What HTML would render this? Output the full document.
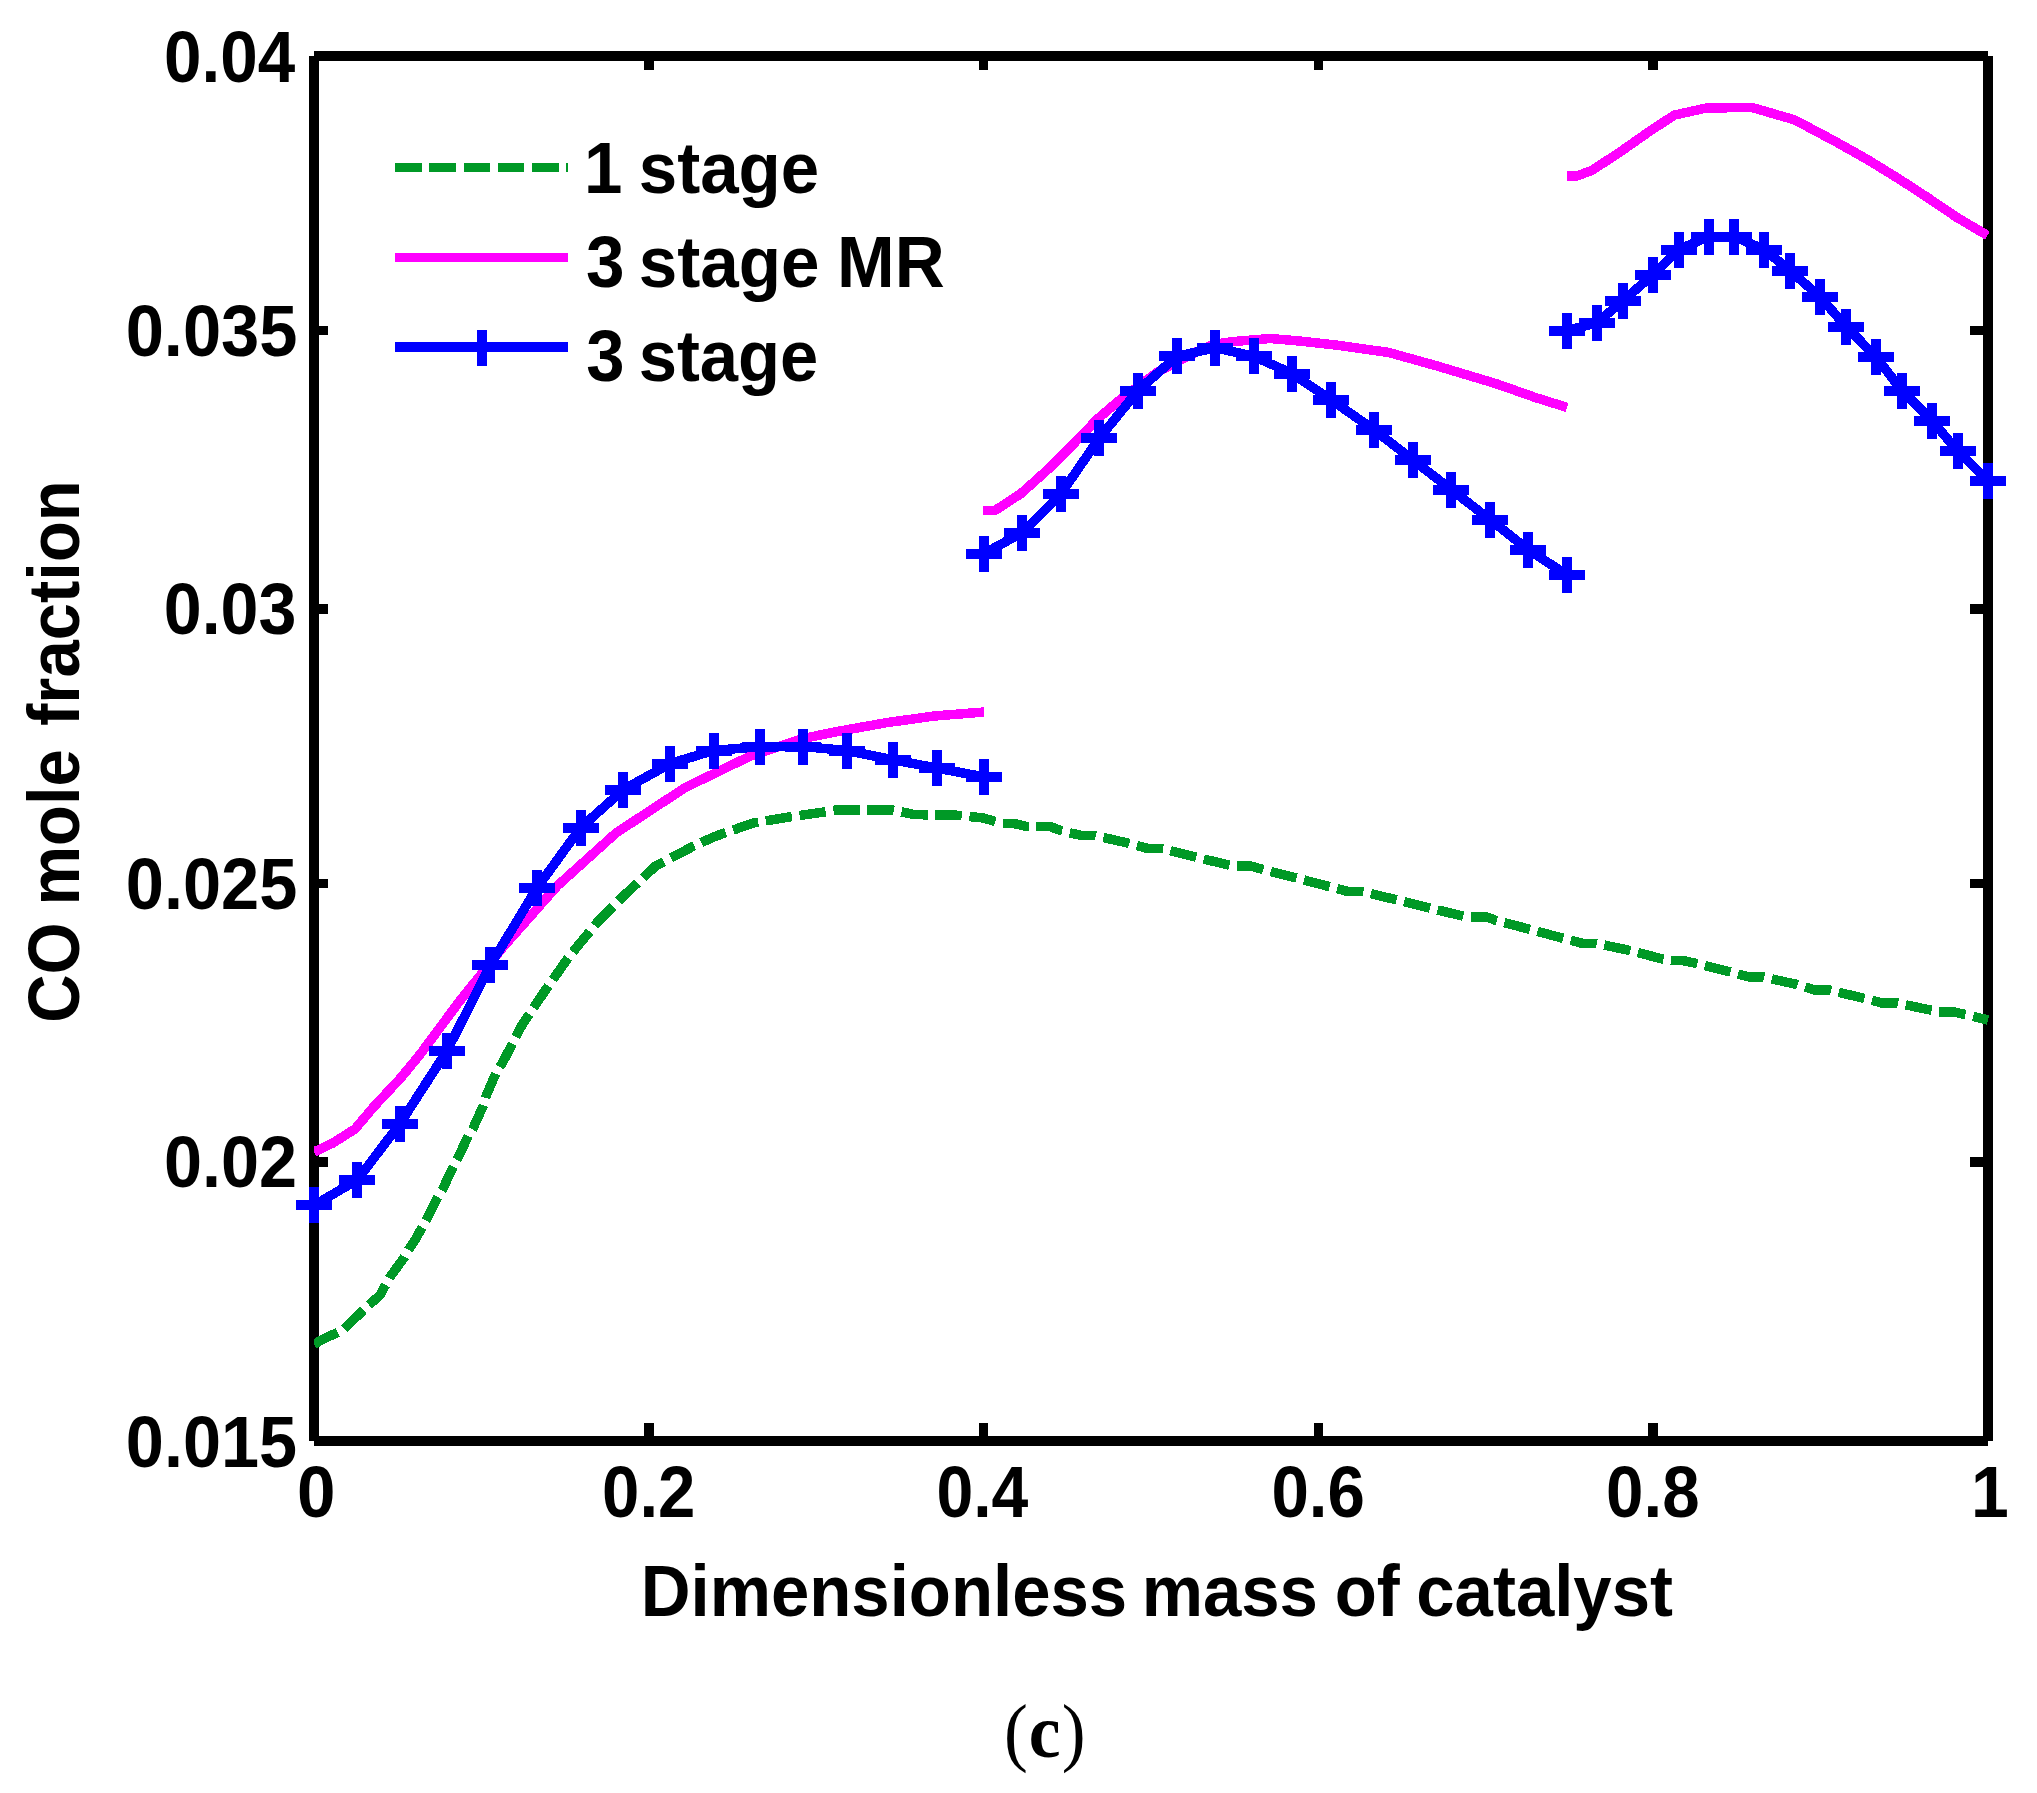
<!DOCTYPE html>
<html lang="en"><head><meta charset="utf-8"><title>CO mole fraction</title>
<style>html,body{margin:0;padding:0;background:#fff}body{width:2037px;height:1793px;overflow:hidden}svg{display:block}.t text{font-family:"Liberation Sans",sans-serif;font-weight:bold;font-size:70px;fill:#000}.c{font-family:"Liberation Serif",serif;font-size:77px;fill:#000}</style></head><body>
<svg width="2037" height="1793" viewBox="0 0 2037 1793">
<rect width="2037" height="1793" fill="#fff"/>
<g stroke="#000" stroke-width="10" fill="none" shape-rendering="crispEdges">
<path d="M314 56H1988 M314 1441H1988 M314 56V1441 M1988 56V1441"/>
<path stroke-width="9.5" d="M649 1441V1423 M649 56V70 M983.5 1441V1423 M983.5 56V70 M1318.5 1441V1423 M1318.5 56V70 M1653 1441V1423 M1653 56V70 M314 330.5H328 M1988 330.5H1970 M314 609H328 M1988 609H1970 M314 883.5H328 M1988 883.5H1970 M314 1162H328 M1988 1162H1970"/>
</g>
<clipPath id="ax"><rect x="314" y="0" width="1675" height="1793"/></clipPath>
<g fill="none" stroke-width="9.5" stroke-linejoin="round" shape-rendering="crispEdges">
<g clip-path="url(#ax)">
<polyline stroke="#009926" stroke-dasharray="26.4 7.76" points="314.0,1344.2 326.1,1337.6 336.6,1333.0 343.2,1329.5 362.7,1310.9 368.3,1305.4 380.3,1294.9 384.8,1286.3 389.4,1277.8 404.4,1257.2 408.4,1249.7 415.1,1240.0 426.0,1220.4 437.3,1198.0 442.2,1190.0 453.2,1166.9 457.2,1159.4 468.3,1135.8 472.8,1128.8 483.3,1105.7 485.8,1096.6 495.9,1073.1 502.4,1063.0 522.0,1025.0 545.7,989.7 569.2,956.4 596.7,923.0 626.2,893.5 655.6,866.0 693.0,846.4 714.5,836.6 753.8,822.8 789.2,817.0 822.6,812.2 834.4,810.2 893.3,810.2 915.0,814.7 954.2,815.0 983.6,818.0 1002.5,823.7"/>
<polyline stroke="#009926" stroke-dasharray="26.5 7.79" points="1002.5,823.7 1014.7,823.7 1027.0,826.6 1050.3,826.6 1061.4,830.8 1082.2,835.7 1095.2,835.7 1128.9,843.3 1148.5,848.7 1162.5,848.7 1196.4,857.3 1229.5,865.2 1236.9,865.9 1250.4,865.9 1263.4,869.6 1297.0,878.2 1330.1,886.8 1348.6,891.7 1362.8,891.7 1396.4,899.8 1430.0,908.1 1463.2,916.2 1470.8,917.2 1486.8,917.2 1496.4,920.5 1529.2,929.2 1562.0,938.0 1582.5,943.4 1596.2,943.4 1629.0,950.3 1661.8,958.8 1671.4,960.7 1683.7,960.7 1696.0,963.4 1728.8,971.6 1749.3,977.0 1763.0,977.0 1797.2,984.5 1815.0,990.2 1830.0,990.2 1862.8,998.1 1882.0,1003.0 1897.0,1003.0 1929.8,1009.9 1939.4,1011.8 1953.0,1011.8 1965.4,1014.5 1988.0,1020.0"/>
<polyline stroke="#ff00ff" points="314.0,1152.0 333.0,1143.0 355.0,1129.0 373.6,1107.0 401.0,1077.6 420.0,1054.5 459.3,1001.5 503.6,946.5 557.5,885.7 616.4,832.7 685.2,787.6 750.0,756.2 803.0,738.5 836.4,731.7 885.5,722.8 934.5,716.0 984.0,712.0"/>
<polyline stroke="#ff00ff" points="983.2,510.3 995.3,510.3 1020.9,493.6 1048.4,469.0 1073.9,443.5 1097.5,419.0 1117.0,402.3 1156.4,372.8 1195.6,352.2 1213.3,344.4 1235.0,341.4 1270.3,338.5 1303.6,341.4 1339.3,345.5 1388.4,352.4 1437.5,366.1 1496.4,383.8 1535.6,397.6 1567.0,407.4"/>
<polyline stroke="#ff00ff" points="1567.0,176.0 1576.7,176.0 1591.5,170.6 1618.0,153.4 1649.3,131.5 1674.3,115.1 1707.1,107.8 1752.8,107.7 1794.9,120.0 1835.7,141.7 1867.6,159.6 1899.5,179.3 1925.1,195.9 1957.0,217.5 1987.5,235.5"/>
<polyline stroke="#0000ff" points="314.2,1205.2 357.4,1179.8 400.0,1123.6 447.1,1050.6 490.3,965.2 537.2,887.6 580.6,827.7 623.2,789.8 670.4,763.5 713.6,750.5 760.4,746.6 803.4,746.6 846.6,750.5 893.3,759.8 936.5,768.0 983.6,776.8"/>
<polyline stroke="#0000ff" points="983.6,553.7 1022.4,532.6 1060.9,493.8 1099.4,438.0 1138.1,390.5 1176.6,356.4 1215.3,347.7 1254.0,356.4 1292.3,373.6 1330.9,399.7 1374.0,429.8 1412.5,459.6 1451.4,489.7 1490.1,519.6 1528.4,549.8 1567.0,574.9"/>
<polyline stroke="#0000ff" points="1567.0,330.7 1597.0,322.6 1623.1,300.7 1652.9,274.8 1678.5,249.6 1708.5,236.6 1734.4,236.6 1764.4,249.6 1790.0,270.6 1820.0,296.7 1846.3,326.9 1876.0,356.8 1902.0,390.7 1932.0,420.6 1957.7,451.0 1987.8,480.7"/>
</g>
<path stroke="#0000ff" stroke-width="10" d="M296.2 1205.2H332.2 M314.2 1187.2V1223.2 M339.4 1179.8H375.4 M357.4 1161.8V1197.8 M382.0 1123.6H418.0 M400.0 1105.6V1141.6 M429.1 1050.6H465.1 M447.1 1032.6V1068.6 M472.3 965.2H508.3 M490.3 947.2V983.2 M519.2 887.6H555.2 M537.2 869.6V905.6 M562.6 827.7H598.6 M580.6 809.7V845.7 M605.2 789.8H641.2 M623.2 771.8V807.8 M652.4 763.5H688.4 M670.4 745.5V781.5 M695.6 750.5H731.6 M713.6 732.5V768.5 M742.4 746.6H778.4 M760.4 728.6V764.6 M785.4 746.6H821.4 M803.4 728.6V764.6 M828.6 750.5H864.6 M846.6 732.5V768.5 M875.3 759.8H911.3 M893.3 741.8V777.8 M918.5 768.0H954.5 M936.5 750.0V786.0 M965.6 776.8H1001.6 M983.6 758.8V794.8 M965.6 553.7H1001.6 M983.6 535.7V571.7 M1004.4 532.6H1040.4 M1022.4 514.6V550.6 M1042.9 493.8H1078.9 M1060.9 475.8V511.8 M1081.4 438.0H1117.4 M1099.4 420.0V456.0 M1120.1 390.5H1156.1 M1138.1 372.5V408.5 M1158.6 356.4H1194.6 M1176.6 338.4V374.4 M1197.3 347.7H1233.3 M1215.3 329.7V365.7 M1236.0 356.4H1272.0 M1254.0 338.4V374.4 M1274.3 373.6H1310.3 M1292.3 355.6V391.6 M1312.9 399.7H1348.9 M1330.9 381.7V417.7 M1356.0 429.8H1392.0 M1374.0 411.8V447.8 M1394.5 459.6H1430.5 M1412.5 441.6V477.6 M1433.4 489.7H1469.4 M1451.4 471.7V507.7 M1472.1 519.6H1508.1 M1490.1 501.6V537.6 M1510.4 549.8H1546.4 M1528.4 531.8V567.8 M1549.0 574.9H1585.0 M1567.0 556.9V592.9 M1549.0 330.7H1585.0 M1567.0 312.7V348.7 M1579.0 322.6H1615.0 M1597.0 304.6V340.6 M1605.1 300.7H1641.1 M1623.1 282.7V318.7 M1634.9 274.8H1670.9 M1652.9 256.8V292.8 M1660.5 249.6H1696.5 M1678.5 231.6V267.6 M1690.5 236.6H1726.5 M1708.5 218.6V254.6 M1716.4 236.6H1752.4 M1734.4 218.6V254.6 M1746.4 249.6H1782.4 M1764.4 231.6V267.6 M1772.0 270.6H1808.0 M1790.0 252.6V288.6 M1802.0 296.7H1838.0 M1820.0 278.7V314.7 M1828.3 326.9H1864.3 M1846.3 308.9V344.9 M1858.0 356.8H1894.0 M1876.0 338.8V374.8 M1884.0 390.7H1920.0 M1902.0 372.7V408.7 M1914.0 420.6H1950.0 M1932.0 402.6V438.6 M1939.7 451.0H1975.7 M1957.7 433.0V469.0 M1969.8 480.7H2005.8 M1987.8 462.7V498.7"/>
<path stroke="#009926" stroke-dasharray="26.5 7.79" d="M395 167.3H568"/>
<path stroke="#ff00ff" d="M395 257.6H568"/>
<path stroke="#0000ff" d="M395 347.2H568"/>
<path stroke="#0000ff" stroke-width="10" d="M482 329.5V365.5"/>
</g>
<g class="t">
<text transform="translate(297.04 1517.20) scale(0.9879 1.020)">0</text>
<text transform="translate(602.12 1517.20) scale(0.9587 1.020)">0.2</text>
<text transform="translate(936.47 1517.20) scale(0.9447 1.020)">0.4</text>
<text transform="translate(1271.42 1517.20) scale(0.9609 1.020)">0.6</text>
<text transform="translate(1606.12 1517.20) scale(0.9609 1.020)">0.8</text>
<text transform="translate(1971.12 1517.20) scale(0.9697 1.020)">1</text>
<text transform="translate(164.11 82.20) scale(0.9624 1.020)">0.04</text>
<text transform="translate(125.66 356.40) scale(0.9806 1.020)">0.035</text>
<text transform="translate(163.78 634.00) scale(0.9733 1.020)">0.03</text>
<text transform="translate(125.76 909.00) scale(0.9794 1.020)">0.025</text>
<text transform="translate(164.07 1187.00) scale(0.9769 1.020)">0.02</text>
<text transform="translate(125.87 1466.90) scale(0.9776 1.020)">0.015</text>
<text transform="translate(584.05 193.00) scale(0.9871 1.020)">1<tspan dx="-2.99"> stage</tspan></text>
<text transform="translate(586.12 287.10) scale(0.9885 1.020)">3<tspan dx="-5.17"> stage</tspan><tspan dx="-1.70"> MR</tspan></text>
<text transform="translate(586.14 381.30) scale(0.9825 1.020)">3<tspan dx="-4.83"> stage</tspan></text>
<text transform="translate(640.78 1615.80) scale(0.9846 1.020)">Dimensionless<tspan dx="-4.72"> mass</tspan><tspan dx="-2.32"> of</tspan><tspan dx="-2.66"> catalyst</tspan></text>
<text transform="translate(78.70 1022.87) rotate(-90) scale(0.9577 1.020)">CO<tspan dx="-1.99"> mole</tspan><tspan dx="4.72"> fraction</tspan></text>
</g>
<text class="c" transform="translate(0 1757) scale(0.93 1)"><tspan x="1079.7">(</tspan><tspan x="1106.1" font-weight="bold">c</tspan><tspan x="1141.7">)</tspan></text>
</svg></body></html>
